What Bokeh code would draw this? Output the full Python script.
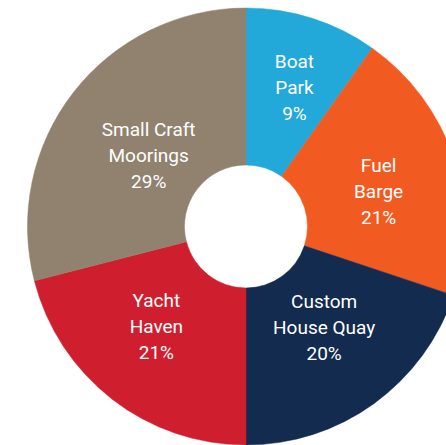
import math
from bokeh.plotting import figure
from bokeh.models import Range1d, ColumnDataSource
from bokeh.embed import file_html
from bokeh.resources import INLINE
from bokeh.core.properties import value

# ---- data ----
categories = ["Boat Park", "Fuel Barge", "Custom House Quay", "Yacht Haven", "Small Craft Moorings"]
name_lines = [["Boat", "Park"], ["Fuel", "Barge"], ["Custom", "House Quay"],
              ["Yacht", "Haven"], ["Small Craft", "Moorings"]]
shares = [9.8, 20.3, 19.9, 21.0, 29.0]
pct_labels = ["9%", "21%", "20%", "21%", "29%"]
colors = ["#22A9DA", "#F15B22", "#142B50", "#CF1F2F", "#918270"]

# ---- layout / style ----
OUTER_R = 218.5
INNER_R = 61.5
LINE_GAP = 26
label_radius = [147, 137, 128, 135, 120]
label_nudge_deg = [1.6, 3.6, -1.8, 3.8, -2.0]

total = sum(shares)
starts, ends, mids = [], [], []
cum = 0.0
for s in shares:
    a0 = cum / total * 2 * math.pi
    cum += s
    a1 = cum / total * 2 * math.pi
    starts.append(math.pi / 2 - a0)
    ends.append(math.pi / 2 - a1)
    mids.append((a0 + a1) / 2)

src = ColumnDataSource(dict(cat=categories, start=starts, end=ends, color=colors))

p = figure(width=446, height=445, output_backend="svg", toolbar_location=None,
           x_range=Range1d(-245.5, 200.5), y_range=Range1d(-219, 226),
           min_border=0, background_fill_color="white", border_fill_color="white")
p.axis.visible = False
p.grid.visible = False
p.outline_line_color = None

p.annular_wedge(x=0, y=0, inner_radius=INNER_R, outer_radius=OUTER_R,
                start_angle="start", end_angle="end", direction="clock",
                fill_color="color", line_color="color", line_width=0.5, source=src)

tx, ty, tt = [], [], []
for i in range(len(categories)):
    a = mids[i] + math.radians(label_nudge_deg[i])
    r = label_radius[i]
    cx = r * math.sin(a)
    cy = r * math.cos(a) + 0.5
    lines = name_lines[i] + [pct_labels[i]]
    for k, line in enumerate(lines):
        tx.append(cx)
        ty.append(cy + (1 - k) * LINE_GAP)
        tt.append(line)

p.text(x=tx, y=ty, text=tt, text_font=value("Roboto"), text_font_size="19px",
       text_color="white", text_align="center", text_baseline="middle")

open("out.html", "w").write(file_html(p, INLINE))
